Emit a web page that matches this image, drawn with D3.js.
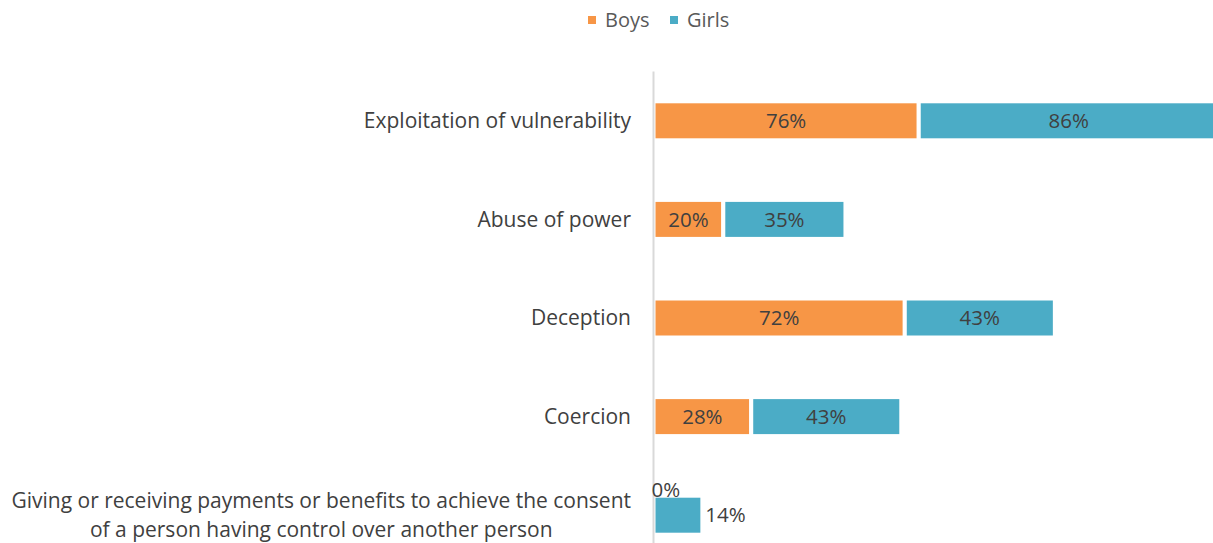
<!DOCTYPE html>
<html>
<head>
<meta charset="utf-8">
<script src="https://cdn.jsdelivr.net/npm/d3@7"></script>
<style>
  html, body { margin: 0; padding: 0; background: #fff; }
  svg { display: block; }
  text { font-family: "Open Sans", "Noto Sans", sans-serif; }
</style>
</head>
<body>
<svg id="chart" width="1213" height="543"></svg>
<script>
// Share of cases by means used, split by sex of the child
const categories = [
  "Exploitation of vulnerability",
  "Abuse of power",
  "Deception",
  "Coercion",
  "Giving or receiving payments or benefits to achieve the consent\nof a person having control over another person"
];
const boys  = [76, 20, 72, 28, 0];
const girls = [86, 35, 43, 43, 14];
const seriesNames = ["Boys", "Girls"];
const seriesColors = ["#F79646", "#4BACC6"];

const W = 1213, H = 543;
const svg = d3.select("#chart");

const x0 = 653.5;
const x = d3.scaleLinear().domain([0, 162]).range([x0, x0 + 162 * 3.49]);
const y = d3.scaleBand().domain(categories)
  .range([101.3, 101.3 + 4 * 98.6 + 39])
  .paddingInner(1 - 39 / 98.6).paddingOuter(0);

// stacked layout
const rows = categories.map((c, i) => ({ cat: c, Boys: boys[i], Girls: girls[i] }));
const stack = d3.stack().keys(seriesNames)(rows);

const g = svg.append("g");
stack.forEach((layer, si) => {
  g.append("g").selectAll("rect").data(layer).join("rect")
    .attr("x", d => x(d[0]))
    .attr("y", d => y(d.data.cat))
    .attr("width", d => Math.max(0, x(d[1]) - x(d[0])))
    .attr("height", y.bandwidth())
    .attr("fill", seriesColors[si])
    .attr("stroke", "#fff").attr("stroke-width", 4)
    .attr("display", d => (d[1] - d[0]) > 0 ? null : "none");
});

// vertical category axis line
svg.append("line")
  .attr("x1", x0).attr("x2", x0)
  .attr("y1", 71.5).attr("y2", H)
  .attr("stroke", "#d9d9d9").attr("stroke-width", 2);

// value labels
const labels = svg.append("g").attr("font-size", 20.5).attr("fill", "#404040");
stack.forEach((layer, si) => {
  layer.forEach(d => {
    const v = d[1] - d[0];
    const cy = y(d.data.cat) + y.bandwidth() / 2;
    let tx, ty, anchor;
    if (v === 0) {
      tx = x(d[0]) - 2; ty = y(d.data.cat) - 6; anchor = "start";
    } else if (v < 18) {
      tx = x(d[1]) + 3; ty = cy; anchor = "start";
    } else {
      tx = (x(d[0]) + x(d[1])) / 2; ty = cy; anchor = "middle";
    }
    labels.append("text")
      .attr("x", tx).attr("y", ty)
      .attr("dy", "0.35em")
      .attr("text-anchor", anchor)
      .text(v + "%");
  });
});

// category labels (multi-line blocks centred, right edge at 631)
const catG = svg.append("g").attr("font-size", 21).attr("fill", "#404040");
categories.forEach(c => {
  const lines = c.split("\n");
  const t = catG.append("text").attr("text-anchor", "middle");
  const lh = 29;
  const cy = y(c) + y.bandwidth() / 2;
  lines.forEach((ln, i) => {
    t.append("tspan").attr("y", cy + (i - (lines.length - 1) / 2) * lh).attr("dy", "0.35em").text(ln);
  });
  let maxW = 0;
  t.selectAll("tspan").each(function () { maxW = Math.max(maxW, this.getComputedTextLength()); });
  t.selectAll("tspan").attr("x", 631 - maxW / 2);
});

// legend
const leg = svg.append("g").attr("font-size", 20).attr("fill", "#595959");
const legPos = [588, 670];
seriesNames.forEach((s, i) => {
  leg.append("rect").attr("x", legPos[i]).attr("y", 16).attr("width", 8).attr("height", 8).attr("fill", seriesColors[i]);
  leg.append("text").attr("x", legPos[i] + 17).attr("y", 20).attr("dy", "0.35em").text(s);
});
</script>
</body>
</html>
